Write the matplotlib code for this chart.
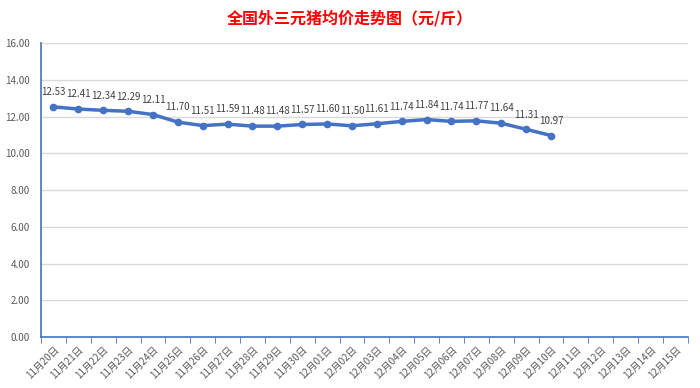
import matplotlib.pyplot as plt
import numpy as np

plt.rcParams['font.family'] = ['Noto Sans CJK SC', 'DejaVu Sans']

dates = ['11月20日', '11月21日', '11月22日', '11月23日', '11月24日', '11月25日',
         '11月26日', '11月27日', '11月28日', '11月29日', '11月30日', '12月01日',
         '12月02日', '12月03日', '12月04日', '12月05日', '12月06日', '12月07日',
         '12月08日', '12月09日', '12月10日', '12月11日', '12月12日', '12月13日',
         '12月14日', '12月15日']
prices = [12.53, 12.41, 12.34, 12.29, 12.11, 11.70, 11.51, 11.59, 11.48, 11.48,
          11.57, 11.60, 11.50, 11.61, 11.74, 11.84, 11.74, 11.77, 11.64, 11.31,
          10.97]

blue = '#4472C4'

fig = plt.figure(figsize=(7, 3.88), dpi=100)
ax = fig.add_axes([0.0586, 0.131, 0.924, 0.758])

x = np.arange(len(prices))
ax.plot(x, prices, color=blue, linewidth=2.5, marker='o', markersize=4.5, zorder=3)
for xi, v in zip(x, prices):
    ax.annotate(f'{v:.2f}', (xi, v), xytext=(0, 7), textcoords='offset points',
                ha='center', va='bottom', fontsize=7, color='#404040')

ax.set_xlim(-0.5, len(dates) - 0.5)
ax.set_ylim(0, 16)
ax.set_yticks(np.arange(0, 17, 2))
ax.set_yticklabels([f'{v:.2f}' for v in np.arange(0, 17, 2)], fontsize=7, color='#595959')
ax.set_xticks(np.arange(len(dates)))
ax.set_xticklabels(dates, rotation=45, ha='right', rotation_mode='anchor',
                   fontsize=7, color='#595959')
ax.set_xticks(np.arange(-0.5, len(dates)), minor=True)
ax.tick_params(axis='x', which='major', length=0, pad=5)
ax.tick_params(axis='x', which='minor', length=4, color=blue, direction='out')
ax.tick_params(axis='y', length=0, pad=8)

ax.grid(axis='y', color='#D9D9D9', linewidth=1)
ax.set_axisbelow(True)
for s in ['top', 'right']:
    ax.spines[s].set_visible(False)
ax.spines['left'].set_color(blue)
ax.spines['bottom'].set_color(blue)
ax.spines['left'].set_linewidth(1.2)
ax.spines['bottom'].set_linewidth(1.2)

fig.suptitle('全国外三元猪均价走势图（元/斤）', x=0.5, y=0.975, fontsize=11.5,
             color='#FF0000', fontweight='bold')

fig.savefig('out.png', dpi=100)
